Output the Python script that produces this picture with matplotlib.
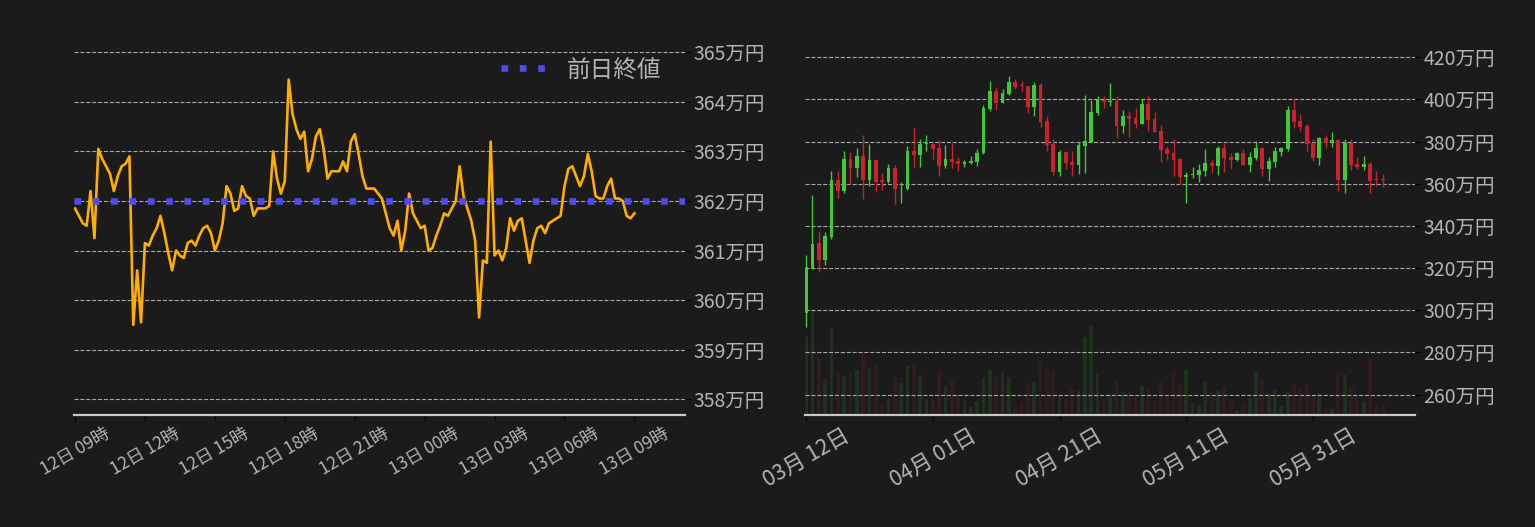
import matplotlib
matplotlib.use('Agg')
import matplotlib.pyplot as plt
import matplotlib.dates as mdates
import numpy as np
import pandas as pd

plt.rcParams['font.family'] = ['Noto Sans CJK JP', 'DejaVu Sans']

# --- intraday (10 min steps) ---
intraday_start = '2024-06-12 09:00'
intraday_price = [
    361.85, 361.7, 361.55, 361.5, 362.2, 361.25, 363.05, 362.85, 362.7, 362.55,
    362.2, 362.5, 362.7, 362.75, 362.9, 359.5, 360.6, 359.55, 361.15, 361.1,
    361.3, 361.45, 361.7, 361.35, 360.95, 360.6, 361.0, 360.9, 360.85, 361.15,
    361.2, 361.1, 361.3, 361.45, 361.5, 361.35, 361.0, 361.2, 361.55, 362.3,
    362.15, 361.8, 361.85, 362.3, 362.1, 362.05, 361.7, 361.85, 361.85, 361.85,
    361.9, 363.0, 362.45, 362.15, 362.4, 364.45, 363.75, 363.45, 363.25, 363.4,
    362.6, 362.85, 363.3, 363.45, 363.05, 362.45, 362.6, 362.6, 362.6, 362.8,
    362.6, 363.2, 363.35, 362.95, 362.5, 362.25, 362.25, 362.25, 362.15, 362.05,
    361.75, 361.45, 361.3, 361.6, 361.0, 361.4, 362.15, 361.75, 361.6, 361.45,
    361.5, 361.0, 361.05, 361.3, 361.5, 361.75, 361.7, 361.85, 362.0, 362.7,
    362.1, 361.85, 361.6, 361.2, 359.65, 360.8, 360.75, 363.2, 360.9, 361.0,
    360.8, 361.05, 361.65, 361.4, 361.6, 361.65, 361.2, 360.75, 361.2, 361.45,
    361.5, 361.35, 361.55, 361.6, 361.65, 361.7, 362.3, 362.65, 362.7, 362.5,
    362.3, 362.5, 362.95, 362.6, 362.1, 362.05, 362.05, 362.3, 362.45, 362.05,
    362.05, 362.0, 361.7, 361.65, 361.75,
]
prev_close = 362.0

# --- daily candles ---
daily_start = '2024-03-12'
daily_open = [
    298.5, 320.1, 332, 323.8, 334.7, 362, 356.4, 371.9, 367.3, 373.3,
    361.6, 371.4, 361.6, 360.7, 367.6, 357.3, 357.4, 375.7, 373.8, 378.8,
    379, 377.1, 368.6, 371.9, 370.9, 369.5, 370, 370.5, 374.4, 395.6,
    404.1, 398.4, 402.6, 408.3, 406.6, 406.4, 396.5, 406.9, 389.9, 379,
    365.7, 375.2, 370.5, 369, 378, 379.9, 393.7, 399.8, 399.0, 399.3,
    387.5, 392.2, 391.3, 388.5, 397.9, 390.8, 385.2, 376.6, 374.7, 371.9,
    363.4, 364.4, 364.3, 366.2, 370, 368.6, 377.1, 372.8, 371.4, 374.7,
    369, 372.4, 377.1, 367.2, 370.5, 375.2, 376.6, 395.1, 389.9, 387.5,
    379.5, 372.4, 381.8, 379.5, 380.9, 362, 379.5, 369.5, 368.1, 369.5,
    362.2, 362.1,
]
daily_high = [
    326, 354.9, 337.8, 337, 366.2, 366.2, 375.7, 375.2, 377.1, 383.2,
    379, 371.9, 365.3, 369.5, 369, 360.9, 378, 386.6, 381.4, 383.2,
    379.5, 380.9, 378.5, 379.5, 372.8, 371.4, 373.3, 376.6, 397.4, 408.8,
    406, 405, 411.2, 409.7, 408.8, 406.6, 408.3, 407.9, 392.2, 381.4,
    376.2, 375.4, 375.7, 379.9, 402.2, 399.8, 401.7, 401.7, 407.9, 401.7,
    395.1, 394.6, 396, 400.3, 401.7, 394.1, 388, 377.6, 381.4, 372,
    365.7, 368.1, 369.5, 376.6, 371.4, 378, 379.5, 374.7, 374.9, 376.6,
    375.2, 380.4, 377.3, 372.8, 377.6, 377.6, 397, 400.3, 393.2, 388.5,
    381.4, 382.3, 383.2, 384.7, 381, 381.4, 381.4, 372.8, 373.3, 370.5,
    366.2, 364.8,
]
daily_low = [
    292, 319.8, 318, 321.7, 334, 353.1, 355.5, 360.1, 363.1, 352.6,
    358.8, 356, 356.9, 360.4, 350.3, 350.8, 357.2, 367.3, 367.8, 375.7,
    371.9, 363.5, 367.6, 367.6, 366.2, 368.1, 369.5, 368.6, 374.2, 394.6,
    395.1, 398.2, 402.2, 405, 404.1, 393.7, 392.2, 387, 375.7, 364.3,
    363.8, 367.2, 363.8, 364.8, 365.3, 379.7, 392.7, 396, 397, 381.8,
    384.2, 382.3, 386.6, 388.3, 385.2, 384.5, 370.5, 371.4, 363.8, 360.1,
    351.1, 362.9, 361, 363.8, 365.3, 364.3, 365.7, 367.2, 370.9, 368.8,
    365.7, 371.4, 363.8, 361.5, 368.1, 373.3, 375.7, 386.6, 385.2, 375.7,
    370.9, 369, 377.1, 377.6, 356.8, 355.8, 366.7, 367.2, 366.7, 355.8,
    359.1, 358.6,
]
daily_close = [
    320.4, 331.6, 323.8, 335.1, 362, 356.4, 371.9, 367.3, 373.3, 361.6,
    371.4, 360.7, 360.7, 367.6, 357.4, 357.6, 375.7, 373.8, 379, 379.1,
    376.6, 368.6, 371.9, 370.5, 369.5, 370.5, 370.9, 374.7, 396, 404.1,
    398.4, 403.1, 408.3, 406, 406.2, 396.5, 406.9, 389.4, 378.5, 365.7,
    375.2, 370, 369, 378.5, 380.4, 394.1, 399.8, 398.9, 399.4, 387.5,
    392.2, 390.8, 388.5, 397.9, 390.3, 384.7, 376.2, 374.3, 371.4, 363.4,
    364.3, 364.8, 366.7, 370, 368.6, 377.1, 372.4, 371.4, 374.7, 369,
    372.8, 377.1, 367.2, 370.9, 375.7, 377.1, 395.1, 389.4, 387, 379,
    372.4, 381.8, 379.5, 380.9, 362, 379.5, 369, 368.1, 369.5, 361.5,
    361.8, 361.9,
]
daily_volume = [
    237, 315, 175, 108, 262, 129, 117, 129, 135, 185,
    138, 150, 34, 51, 114, 96, 147, 147, 120, 45,
    45, 126, 84, 102, 60, 42, 24, 42, 111, 135,
    114, 126, 114, 24, 39, 96, 96, 162, 144, 132,
    60, 48, 78, 72, 234, 267, 126, 39, 60, 102,
    69, 69, 54, 90, 84, 45, 99, 54, 129, 90,
    138, 33, 30, 99, 69, 72, 81, 42, 12, 30,
    51, 129, 108, 63, 75, 27, 69, 90, 78, 90,
    63, 66, 21, 18, 123, 120, 84, 57, 42, 168,
    30, 33,
]

BG = '#1b1b1b'
TXT = '#b4b4b4'
GRID = '#a8a8a8'
UP = '#3ec83a'
DOWN = '#c9222e'

W, H = 1535, 527
fig = plt.figure(figsize=(W / 100, H / 100), dpi=100, facecolor=BG)
ax1 = fig.add_axes([74 / W, 112 / H, 611 / W, 380 / H])
ax2 = fig.add_axes([805 / W, 112 / H, 610 / W, 380 / H])


def style_axis(ax, xlabelsize):
    ax.set_facecolor(BG)
    for side in ['top', 'left', 'right']:
        ax.spines[side].set_visible(False)
    ax.spines['bottom'].set_color('#c8c8c8')
    ax.spines['bottom'].set_linewidth(1.6)
    ax.yaxis.tick_right()
    ax.tick_params(axis='y', labelsize=14, labelcolor=TXT, color='#050505',
                   length=4, pad=2)
    ax.tick_params(axis='x', labelsize=xlabelsize, labelcolor=TXT,
                   color='#050505', length=4, pad=3)
    ax.grid(axis='y', linestyle='--', color=GRID, linewidth=0.8)
    ax.grid(axis='x', visible=False)
    ax.set_axisbelow(True)


# ---------- left: intraday ----------
times = pd.date_range(intraday_start, periods=len(intraday_price), freq='10min')
t0 = pd.Timestamp(intraday_start)
style_axis(ax1, 12.5)
ax1.plot(times, intraday_price, color='#ffae00', linewidth=1.9, zorder=3)
ax1.axhline(prev_close, color='#4b4bf0', linewidth=4.8,
            linestyle=(0, (1, 1.75)), label='前日終値', zorder=4)
ax1.set_ylim(357.68, 365.35)
ax1.set_xlim(t0 - pd.Timedelta(minutes=2.6), t0 + pd.Timedelta(hours=26.17))
ax1.set_yticks(np.arange(358, 366, 1))
ax1.yaxis.set_major_formatter(plt.FuncFormatter(lambda v, p: f'{v:.0f}万円'))
ax1.set_xticks(pd.date_range(t0, periods=9, freq='3h'))
ax1.xaxis.set_major_formatter(mdates.DateFormatter('%d日 %H時'))
plt.setp(ax1.get_xticklabels(), rotation=30, ha='center')
leg = ax1.legend(loc='upper right', frameon=False, fontsize=17,
                 handlelength=2.0, borderaxespad=0.6)
for t in leg.get_texts():
    t.set_color(TXT)

# ---------- right: daily candles ----------
dates = pd.date_range(daily_start, periods=len(daily_open), freq='D')
d0 = pd.Timestamp(daily_start)
op = np.array(daily_open)
hi = np.array(daily_high)
lo = np.array(daily_low)
cl = np.array(daily_close)
vol = np.array(daily_volume)
colors = np.where(cl >= op, UP, DOWN)

axv = ax2.twinx()
axv.set_zorder(ax2.get_zorder() - 1)
axv.set_facecolor(BG)
ax2.patch.set_visible(False)
axv.bar(dates, vol, width=0.6, color=colors, alpha=0.12)
axv.set_ylim(0, 3 * 380)
axv.set_yticks([])
for s in axv.spines.values():
    s.set_visible(False)

style_axis(ax2, 15.5)
ax2.vlines(dates, lo, hi, colors=colors, linewidth=1.0, zorder=3)
body = np.maximum(np.abs(cl - op), 0.45)
ax2.bar(dates, body, bottom=np.minimum(op, cl), width=0.6, color=colors, zorder=4)
ax2.set_ylim(250.34, 430.56)
ax2.set_xlim(d0 - pd.Timedelta(days=0.17), d0 + pd.Timedelta(days=96.1))
ax2.set_yticks(np.arange(260, 421, 20))
ax2.yaxis.set_major_formatter(plt.FuncFormatter(lambda v, p: f'{v:.0f}万円'))
ax2.set_xticks(dates[::20])
ax2.xaxis.set_major_formatter(mdates.DateFormatter('%m月 %d日'))
plt.setp(ax2.get_xticklabels(), rotation=30, ha='center')

fig.savefig('out.png', dpi=100, facecolor=BG)
